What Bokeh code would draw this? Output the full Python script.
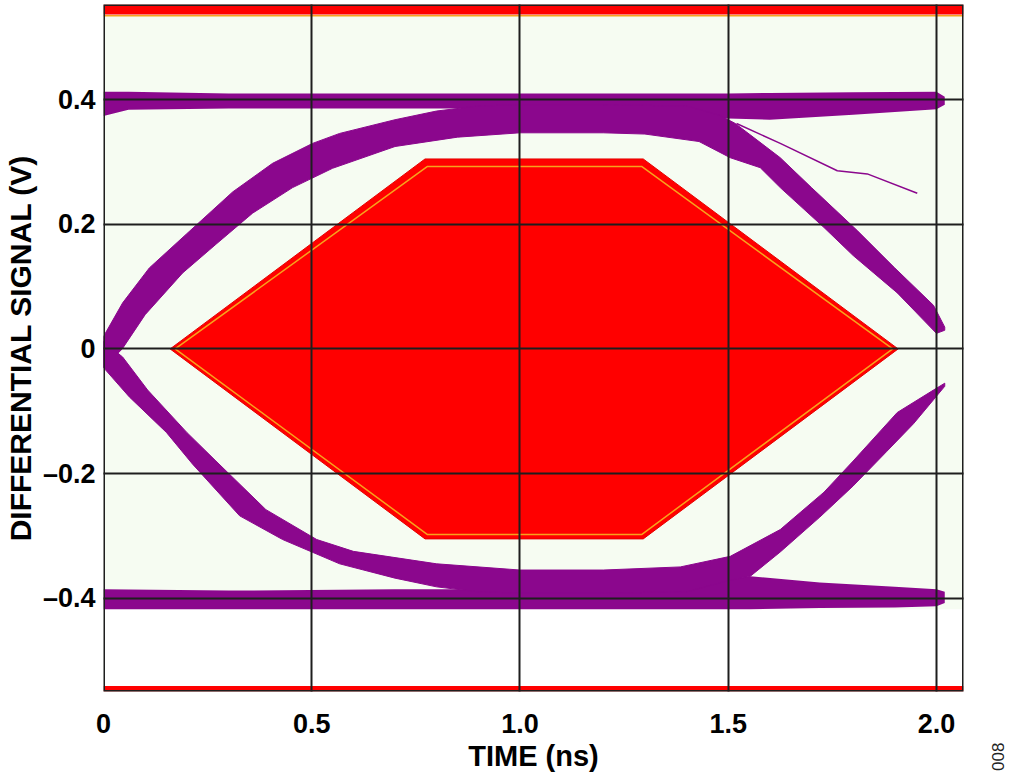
import math
from bokeh.plotting import figure
from bokeh.models import Range1d, FixedTicker, BoxAnnotation, Div
from bokeh.layouts import row
from bokeh.embed import file_html
from bokeh.resources import INLINE

# ---------------- data (time in ns, signal in V) ----------------
x_ticks = [0, 0.5, 1.0, 1.5, 2.0]
x_tick_labels = ["0", "0.5", "1.0", "1.5", "2.0"]
y_ticks = [-0.4, -0.2, 0.0, 0.2, 0.4]
y_tick_labels = ["\u20130.4", "\u20130.2", "0", "0.2", "0.4"]
figure_id = "008"

# high rail band (logic 1 level)
top_t = [0.0, 0.06, 0.3, 0.7, 1.0, 1.5, 1.6, 1.8, 2.0, 2.02]
top_hi = [0.413, 0.413, 0.41, 0.41, 0.41, 0.41, 0.411, 0.412, 0.413, 0.405]
top_lo = [0.374, 0.384, 0.386, 0.386, 0.386, 0.37, 0.368, 0.376, 0.385, 0.392]

# low rail band (logic 0 level)
bot_t = [0.0, 0.3, 0.7, 1.0, 1.4, 1.553, 1.72, 1.9, 2.0, 2.02]
bot_hi = [-0.386, -0.388, -0.386, -0.386, -0.38, -0.365, -0.375, -0.382, -0.386, -0.39]
bot_lo = [-0.418, -0.418, -0.418, -0.418, -0.418, -0.418, -0.416, -0.415, -0.413, -0.408]

# upper eye trace envelope (rising edge, plateau, falling edge)
up_outer_t = [0.0, 0.046, 0.11, 0.2, 0.31, 0.406, 0.502, 0.567, 0.7, 0.8, 0.9, 1.0, 1.2, 1.4,
              1.48, 1.517, 1.625, 1.70, 1.81, 1.90, 1.993, 2.02]
up_outer_v = [0.02, 0.074, 0.13, 0.185, 0.252, 0.298, 0.33, 0.346, 0.368, 0.382, 0.39, 0.392,
              0.392, 0.39, 0.375, 0.362, 0.307, 0.259, 0.19, 0.13, 0.07, 0.035]
up_inner_t = [0.0, 0.045, 0.1, 0.19, 0.27, 0.358, 0.454, 0.55, 0.7, 0.85, 1.0, 1.2, 1.3, 1.43,
              1.505, 1.577, 1.625, 1.73, 1.80, 1.906, 2.0, 2.02]
up_inner_v = [-0.03, 0.0, 0.055, 0.122, 0.168, 0.218, 0.259, 0.29, 0.325, 0.34, 0.347, 0.347,
              0.345, 0.333, 0.307, 0.291, 0.259, 0.195, 0.15, 0.09, 0.025, 0.03]

# lower eye trace envelope (falling edge, plateau, rising edge)
lo_outer_t = [0.0, 0.062, 0.151, 0.214, 0.327, 0.43, 0.567, 0.7, 0.8, 0.9, 1.0, 1.2, 1.4,
              1.5, 1.553, 1.625, 1.72, 1.80, 1.88, 1.945, 2.02]
lo_outer_v = [-0.03, -0.077, -0.134, -0.185, -0.268, -0.306, -0.345, -0.368, -0.382, -0.39,
              -0.392, -0.392, -0.39, -0.372, -0.365, -0.326, -0.27, -0.22, -0.165, -0.12, -0.06]
lo_inner_t = [0.0, 0.046, 0.106, 0.2, 0.27, 0.39, 0.512, 0.6, 0.8, 1.0, 1.2, 1.385, 1.505,
              1.625, 1.73, 1.80, 1.906, 1.993, 2.02]
lo_inner_v = [0.012, -0.013, -0.066, -0.134, -0.18, -0.258, -0.306, -0.325, -0.345, -0.355,
              -0.355, -0.35, -0.333, -0.29, -0.23, -0.18, -0.102, -0.066, -0.055]

# single stray trace
stray_t = [1.52, 1.625, 1.762, 1.834, 1.954]
stray_v = [0.362, 0.33, 0.286, 0.281, 0.25]

# eye mask (hexagon) and its inner outline
mask_t = [0.16, 0.772, 1.296, 1.908, 1.296, 0.772]
mask_v = [0.0, 0.305, 0.305, 0.0, -0.305, -0.305]
mask_in_t = [0.172, 0.778, 1.292, 1.895, 1.292, 0.778, 0.172]
mask_in_v = [0.0, 0.293, 0.293, 0.0, -0.298, -0.298, 0.0]

# upper / lower limit bands of the mask
limit_top = [0.537, 0.553]
limit_bot = [-0.55, -0.541]
low_clear_v = [-0.55, -0.418]

T_MIN, T_MAX = 0.0, 2.065
V_MIN, V_MAX = -0.55, 0.553

PURPLE = "#8b078d"
RED = "#ff0000"
ORANGE = "#f7a21c"
MINT = "#f6fcf2"
FONT = "Liberation Sans"
FRAME = "#1e1e1e"

p = figure(frame_width=860, frame_height=687,
           x_range=Range1d(T_MIN, T_MAX), y_range=Range1d(V_MIN, V_MAX),
           output_backend="svg", toolbar_location=None,
           min_border_left=97, min_border_right=22, min_border_top=1, min_border_bottom=10,
           background_fill_color=MINT, border_fill_color="white")

# white zone below low rail
p.quad(left=[T_MIN], right=[T_MAX], bottom=[low_clear_v[0]], top=[low_clear_v[1]],
       fill_color="white", line_color=None)

# purple traces
p.varea(x=top_t, y1=top_lo, y2=top_hi, fill_color=PURPLE)
p.varea(x=bot_t, y1=bot_lo, y2=bot_hi, fill_color=PURPLE)
p.patch(x=up_outer_t + up_inner_t[::-1], y=up_outer_v + up_inner_v[::-1],
        fill_color=PURPLE, line_color=PURPLE, line_width=1)
p.patch(x=lo_outer_t + lo_inner_t[::-1], y=lo_outer_v + lo_inner_v[::-1],
        fill_color=PURPLE, line_color=PURPLE, line_width=1)
p.line(stray_t, stray_v, line_color=PURPLE, line_width=1.5)

# mask
p.patch(x=mask_t, y=mask_v, fill_color=RED, line_color="#e60000", line_width=1)
p.line(mask_in_t, mask_in_v, line_color=ORANGE, line_width=1.5)

# limit bands
p.quad(left=[T_MIN], right=[T_MAX], bottom=[limit_top[0]], top=[limit_top[1]],
       fill_color=RED, line_color=None)
p.line([T_MIN, T_MAX], [limit_top[0] - 0.002] * 2, line_color=ORANGE, line_width=1.5)
p.quad(left=[T_MIN], right=[T_MAX], bottom=[limit_bot[0]], top=[limit_bot[1]],
       fill_color=RED, line_color=None)

# axes / grid
p.xaxis.ticker = FixedTicker(ticks=x_ticks)
p.yaxis.ticker = FixedTicker(ticks=y_ticks)
p.xaxis.major_label_overrides = {t: l for t, l in zip(x_ticks, x_tick_labels)}
p.yaxis.major_label_overrides = {t: l for t, l in zip(y_ticks, y_tick_labels)}
for ax in (p.xaxis, p.yaxis):
    ax.axis_line_color = None
    ax.major_tick_line_color = None
    ax.minor_tick_line_color = None
    ax.major_tick_out = 0
    ax.major_tick_in = 0
    ax.major_label_text_font = FONT
    ax.major_label_text_font_style = "bold"
    ax.major_label_text_font_size = "27px"
    ax.major_label_text_color = "black"
    ax.axis_label_text_font = FONT
    ax.axis_label_text_font_style = "bold"
    ax.axis_label_text_color = "black"
p.xaxis.axis_label_text_font_size = "29px"
p.yaxis.axis_label_text_font_size = "30px"
p.xaxis.axis_label = "TIME (ns)"
p.yaxis.axis_label = "DIFFERENTIAL SIGNAL (V)"
p.xaxis.major_label_standoff = 22
p.xaxis.axis_label_standoff = 4
p.yaxis.major_label_standoff = 8
p.yaxis.axis_label_standoff = 3

p.xgrid.ticker = FixedTicker(ticks=[0.5, 1.0, 1.5, 2.0])
p.ygrid.ticker = FixedTicker(ticks=y_ticks)
p.grid.grid_line_color = FRAME
p.grid.grid_line_width = 2
p.grid.level = "overlay"

p.outline_line_color = None
p.add_layout(BoxAnnotation(fill_alpha=0, line_color=FRAME, line_width=3, line_alpha=1.0,
                           level="overlay"))

fig_id = Div(text=figure_id, width=28, height=20, margin=(744, 0, 0, 0),
             styles={"transform": "rotate(-90deg)", "font-family": FONT,
                     "font-size": "17px", "color": "#222222", "text-align": "center",
                     "line-height": "20px"})

layout = row(p, fig_id, styles={"margin-top": "3px"})

open("out.html", "w").write(file_html(layout, INLINE))
